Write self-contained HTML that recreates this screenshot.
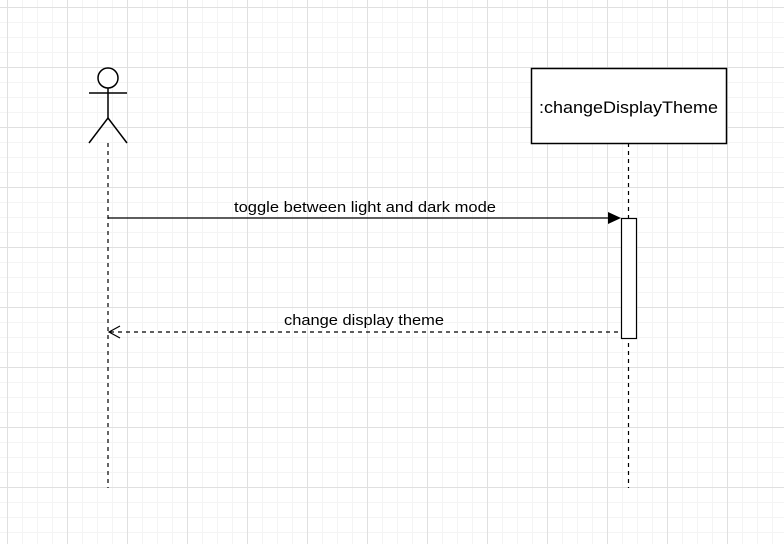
<!DOCTYPE html>
<html><head><style>
html,body{margin:0;padding:0;background:#fff;}
</style></head><body>
<svg width="784" height="544" xmlns="http://www.w3.org/2000/svg" style="display:block">
<defs>
<pattern id="minor" width="15" height="15" patternUnits="userSpaceOnUse" x="7" y="7">
<path d="M0 0.5H15M0.5 0V15" stroke="#f4f4f4" stroke-width="1" fill="none"/>
</pattern>
<pattern id="major" width="60" height="60" patternUnits="userSpaceOnUse" x="7" y="7">
<path d="M0 0.5H60M0.5 0V60" stroke="#e0e0e0" stroke-width="1" fill="none"/>
</pattern>
</defs>
<rect width="784" height="544" fill="url(#minor)"/>
<rect width="784" height="544" fill="url(#major)"/>
<g stroke="#000" stroke-width="1.5" fill="none">
<circle cx="108" cy="78" r="10" fill="#fff"/>
<line x1="108" y1="88" x2="108" y2="118"/>
<line x1="89" y1="93" x2="127" y2="93"/>
<line x1="108" y1="118" x2="89" y2="143"/>
<line x1="108" y1="118" x2="127" y2="143"/>
</g>
<line x1="108" y1="143" x2="108" y2="488" stroke="#000" stroke-dasharray="4,4" stroke-width="1.2"/>
<line x1="628.5" y1="143" x2="628.5" y2="488" stroke="#000" stroke-dasharray="4,4" stroke-width="1.2"/>
<rect x="531.5" y="68.5" width="195" height="75" fill="#fff" stroke="#000" stroke-width="1.5"/>
<text x="539" y="113" font-family="Liberation Sans, sans-serif" font-size="17" textLength="179" lengthAdjust="spacingAndGlyphs">:changeDisplayTheme</text>
<rect x="621.5" y="218.5" width="15" height="120" fill="#fff" stroke="#000" stroke-width="1.2"/>
<line x1="108" y1="218" x2="610" y2="218" stroke="#000" stroke-width="1.2"/>
<path d="M608 212 L621 218 L608 224 Z" fill="#000"/>
<text x="234" y="212" font-family="Liberation Sans, sans-serif" font-size="15" textLength="262" lengthAdjust="spacingAndGlyphs">toggle between light and dark mode</text>
<line x1="110" y1="332" x2="621" y2="332" stroke="#000" stroke-width="1.2" stroke-dasharray="4,4"/>
<path d="M120 326 L109 332 L120 338" fill="none" stroke="#000" stroke-width="1.2"/>
<text x="284" y="325" font-family="Liberation Sans, sans-serif" font-size="15" textLength="160" lengthAdjust="spacingAndGlyphs">change display theme</text>
</svg>
</body></html>
